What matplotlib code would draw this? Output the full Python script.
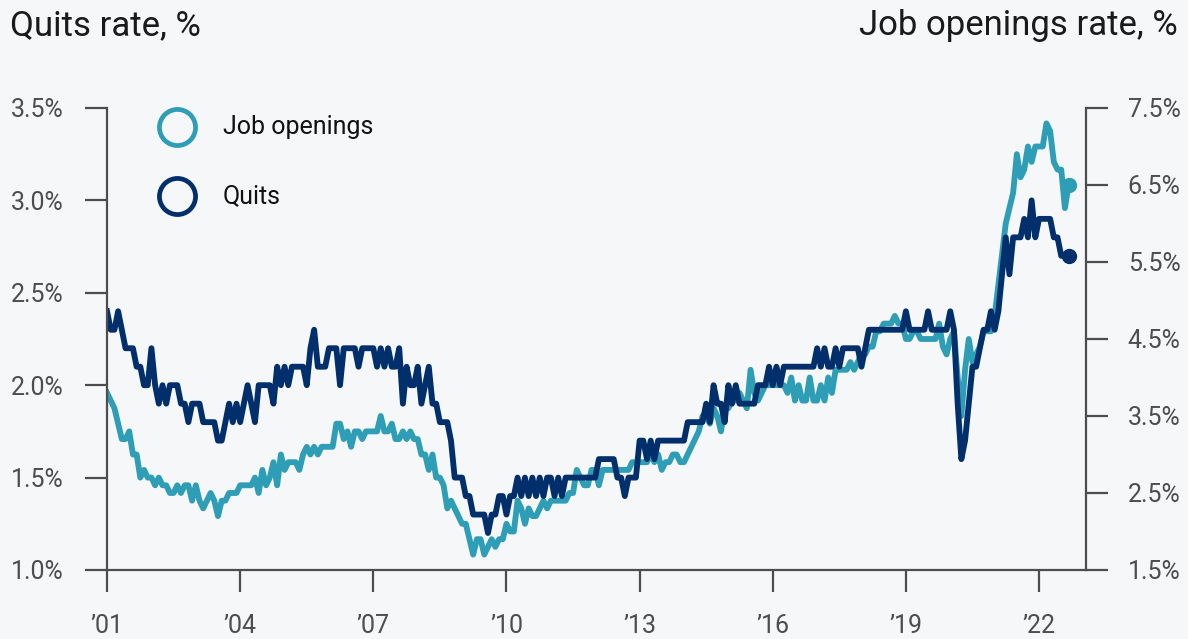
import numpy as np
import matplotlib.pyplot as plt

plt.rcParams['font.family'] = ['Roboto', 'DejaVu Sans']

# monthly JOLTS rates, Jan 2001 - Sep 2022
start_year = 2001
quits_rate = [
    2.4, 2.3, 2.3, 2.4, 2.3, 2.2, 2.2, 2.2, 2.1, 2.1, 2.0, 2.0,  # 2001
    2.2, 2.0, 1.9, 2.0, 1.9, 2.0, 2.0, 2.0, 1.9, 1.9, 1.8, 1.9,  # 2002
    1.9, 1.9, 1.8, 1.8, 1.8, 1.8, 1.7, 1.7, 1.8, 1.9, 1.8, 1.9,  # 2003
    1.8, 1.9, 2.0, 1.9, 1.8, 2.0, 2.0, 2.0, 2.0, 1.9, 2.1, 2.0,  # 2004
    2.1, 2.0, 2.1, 2.1, 2.1, 2.1, 2.0, 2.2, 2.3, 2.1, 2.1, 2.1,  # 2005
    2.2, 2.2, 2.2, 2.0, 2.2, 2.2, 2.2, 2.2, 2.1, 2.2, 2.2, 2.2,  # 2006
    2.2, 2.1, 2.2, 2.1, 2.2, 2.1, 2.1, 2.2, 1.9, 2.1, 2.0, 2.0,  # 2007
    2.1, 1.9, 2.0, 2.1, 1.9, 1.9, 1.8, 1.8, 1.8, 1.7, 1.5, 1.5,  # 2008
    1.5, 1.4, 1.4, 1.3, 1.3, 1.3, 1.3, 1.2, 1.3, 1.3, 1.4, 1.4,  # 2009
    1.3, 1.4, 1.4, 1.5, 1.4, 1.5, 1.4, 1.5, 1.4, 1.5, 1.4, 1.5,  # 2010
    1.5, 1.4, 1.5, 1.4, 1.5, 1.5, 1.5, 1.5, 1.5, 1.5, 1.5, 1.5,  # 2011
    1.5, 1.6, 1.6, 1.6, 1.6, 1.6, 1.5, 1.5, 1.4, 1.5, 1.5, 1.5,  # 2012
    1.7, 1.7, 1.6, 1.7, 1.6, 1.7, 1.7, 1.7, 1.7, 1.7, 1.7, 1.7,  # 2013
    1.7, 1.8, 1.8, 1.8, 1.8, 1.8, 1.9, 1.8, 2.0, 1.9, 1.9, 1.8,  # 2014
    2.0, 1.9, 2.0, 1.9, 1.9, 1.9, 1.9, 1.9, 2.0, 2.0, 2.0, 2.1,  # 2015
    2.0, 2.1, 2.0, 2.1, 2.1, 2.1, 2.1, 2.1, 2.1, 2.1, 2.1, 2.1,  # 2016
    2.2, 2.1, 2.2, 2.1, 2.1, 2.2, 2.1, 2.2, 2.2, 2.2, 2.2, 2.2,  # 2017
    2.1, 2.2, 2.3, 2.3, 2.3, 2.3, 2.3, 2.3, 2.3, 2.3, 2.3, 2.3,  # 2018
    2.4, 2.3, 2.3, 2.3, 2.3, 2.3, 2.4, 2.3, 2.3, 2.3, 2.3, 2.3,  # 2019
    2.4, 2.3, 1.9, 1.6, 1.7, 1.9, 2.1, 2.1, 2.2, 2.3, 2.3, 2.4,  # 2020
    2.3, 2.4, 2.6, 2.8, 2.6, 2.8, 2.8, 2.8, 2.9, 2.8, 3.0, 2.8,  # 2021
    2.9, 2.9, 2.9, 2.9, 2.8, 2.8, 2.7, 2.7, 2.7,                 # 2022
]
job_openings_rate = [
    3.8, 3.7, 3.6, 3.4, 3.2, 3.2, 3.3, 3.0, 3.0, 2.7, 2.8, 2.7,  # 2001
    2.7, 2.6, 2.7, 2.6, 2.6, 2.5, 2.5, 2.6, 2.5, 2.6, 2.6, 2.4,  # 2002
    2.6, 2.4, 2.3, 2.4, 2.5, 2.4, 2.2, 2.4, 2.4, 2.5, 2.5, 2.5,  # 2003
    2.6, 2.6, 2.6, 2.6, 2.7, 2.5, 2.8, 2.6, 2.7, 2.9, 2.6, 3.0,  # 2004
    2.8, 2.9, 2.9, 2.9, 2.8, 3.0, 3.1, 3.0, 3.1, 3.0, 3.1, 3.1,  # 2005
    3.1, 3.1, 3.4, 3.4, 3.2, 3.3, 3.1, 3.3, 3.3, 3.2, 3.3, 3.3,  # 2006
    3.3, 3.3, 3.5, 3.3, 3.3, 3.4, 3.2, 3.2, 3.3, 3.2, 3.3, 3.2,  # 2007
    3.2, 3.0, 3.0, 2.8, 3.0, 2.7, 2.7, 2.6, 2.3, 2.4, 2.3, 2.2,  # 2008
    2.1, 2.1, 1.9, 1.7, 1.9, 1.9, 1.7, 1.8, 1.9, 1.8, 1.9, 1.9,  # 2009
    2.1, 2.0, 2.0, 2.4, 2.3, 2.1, 2.3, 2.2, 2.2, 2.3, 2.4, 2.3,  # 2010
    2.4, 2.4, 2.4, 2.4, 2.4, 2.5, 2.5, 2.8, 2.7, 2.6, 2.6, 2.8,  # 2011
    2.8, 2.6, 2.8, 2.8, 2.8, 2.8, 2.8, 2.8, 2.8, 2.8, 2.9, 2.9,  # 2012
    2.9, 2.9, 2.9, 3.0, 2.9, 3.0, 2.8, 2.9, 2.9, 3.0, 3.0, 2.9,  # 2013
    2.9, 3.0, 3.1, 3.2, 3.3, 3.5, 3.5, 3.4, 3.6, 3.5, 3.3, 3.6,  # 2014
    3.6, 3.7, 3.7, 3.8, 3.7, 3.6, 4.1, 3.8, 3.7, 3.8, 3.9, 3.9,  # 2015
    3.9, 3.9, 3.9, 3.9, 3.8, 4.0, 3.7, 3.9, 3.7, 3.7, 4.0, 3.7,  # 2016
    3.7, 3.9, 3.7, 4.0, 3.8, 4.1, 4.1, 4.1, 4.1, 4.2, 4.1, 4.2,  # 2017
    4.3, 4.3, 4.4, 4.4, 4.6, 4.6, 4.7, 4.7, 4.7, 4.8, 4.7, 4.7,  # 2018
    4.5, 4.5, 4.6, 4.6, 4.5, 4.5, 4.5, 4.5, 4.5, 4.7, 4.4, 4.3,  # 2019
    4.5, 4.6, 4.0, 3.5, 4.1, 4.5, 4.2, 4.3, 4.4, 4.6, 4.6, 4.6,  # 2020
    4.8, 5.2, 5.6, 6.0, 6.2, 6.4, 6.9, 6.6, 6.7, 7.0, 6.8, 7.0,  # 2021
    7.0, 7.0, 7.3, 7.2, 6.8, 6.7, 6.7, 6.2, 6.5,                 # 2022
]

tick_years = [2001, 2004, 2007, 2010, 2013, 2016, 2019, 2022]
tick_labels = ['\u201901', '\u201904', '\u201907', '\u201910',
               '\u201913', '\u201916', '\u201919', '\u201922']
quits_ticks = [1.0, 1.5, 2.0, 2.5, 3.0, 3.5]
openings_ticks = [1.5, 2.5, 3.5, 4.5, 5.5, 6.5, 7.5]

bg = '#F6F7F9'
teal = '#2E9DB6'
navy = '#002F6C'
grey = '#4D4D4D'

months = start_year + np.arange(len(quits_rate)) / 12

fig = plt.figure(figsize=(11.88, 6.39), dpi=100, facecolor=bg)
ax = fig.add_axes([0.0901, 0.108, 0.8241, 0.723])
ax2 = ax.twinx()
ax.set_zorder(ax2.get_zorder() + 1)
ax.patch.set_visible(False)
ax2.patch.set_visible(False)

ax2.plot(months, job_openings_rate, color=teal, lw=4.2)
ax2.plot(months[-1], job_openings_rate[-1], 'o', ms=10, color=teal)
ax.plot(months, quits_rate, color=navy, lw=4.2)
ax.plot(months[-1], quits_rate[-1], 'o', ms=10, color=navy)

ax.set_xlim(2001, 2023.06)
ax.set_ylim(1.0, 3.5)
ax2.set_ylim(1.5, 7.5)

ax.set_xticks(tick_years)
ax.set_xticklabels(tick_labels)
ax.set_yticks(quits_ticks)
ax.set_yticklabels([f'{v:.1f}%' for v in quits_ticks])
ax2.set_yticks(openings_ticks)
ax2.set_yticklabels([f'{v:.1f}%' for v in openings_ticks])

for side in ['top', 'right']:
    ax.spines[side].set_visible(False)
for side in ['top', 'left', 'bottom']:
    ax2.spines[side].set_visible(False)
for sp in [ax.spines['left'], ax.spines['bottom'], ax2.spines['right']]:
    sp.set_color(grey)
    sp.set_linewidth(1.6)

ax.tick_params(axis='y', length=16, width=1.6, color=grey, labelsize=18,
               labelcolor=grey, pad=15)
ax.tick_params(axis='x', length=16, width=1.6, color=grey, labelsize=18,
               labelcolor=grey, pad=16)
ax2.tick_params(axis='y', length=16, width=1.6, color=grey, labelsize=18,
                labelcolor=grey, pad=14)

# legend: open rings with labels
ax.plot([0.0712], [0.9595], transform=ax.transAxes, marker='o', ms=26,
        mfc='none', mec=teal, mew=3.4, clip_on=False)
ax.plot([0.0712], [0.8095], transform=ax.transAxes, marker='o', ms=26,
        mfc='none', mec=navy, mew=3.4, clip_on=False)
ax.text(0.1185, 0.9595, 'Job openings', transform=ax.transAxes,
        fontsize=18, color='#111111', va='center', ha='left')
ax.text(0.1185, 0.8095, 'Quits', transform=ax.transAxes,
        fontsize=18, color='#111111', va='center', ha='left')

fig.text(10 / 1188, 1 - 26 / 639, 'Quits rate, %', fontsize=25,
         color='#1A1A1A', va='center', ha='left')
fig.text(1178 / 1188, 1 - 26 / 639, 'Job openings rate, %', fontsize=25,
         color='#1A1A1A', va='center', ha='right')

fig.savefig('out.png', dpi=100, facecolor=bg)
